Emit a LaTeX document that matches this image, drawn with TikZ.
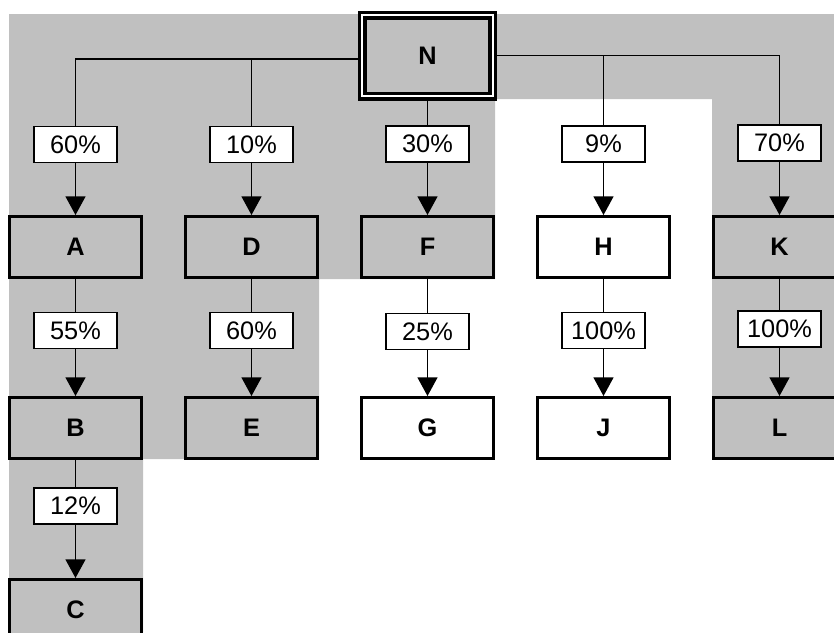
\documentclass[tikz,border=0pt]{standalone}
\usepackage{fontspec}
\setmainfont{Liberation Sans}
\usepackage{xcolor}
\usepackage{tikz}
\definecolor{panelgray}{RGB}{192, 192, 192}
\usetikzlibrary{arrows.meta, positioning}

\begin{document}
\begin{tikzpicture}[x=0.75pt, y=-0.75pt, node distance=87.75pt and 30.75pt,
    unitbox/.style={draw=black, line width=2.5pt, minimum width=98.75pt, minimum height=45.5pt,
          inner sep=0pt, font=\fontsize{19}{19}\selectfont\bfseries},
    grayunit/.style={unitbox, fill=panelgray},
    whiteunit/.style={unitbox, fill=white},
    share/.style={draw=black, fill=white, line width=0.9pt, minimum width=62.25pt,
          minimum height=27pt, inner sep=0pt, font=\fontsize{19}{19}\selectfont},
    link/.style={draw=black, line width=1pt},
    flow/.style={link, -{Triangle[width=15pt, length=14pt]}}]

    \useasboundingbox (0,0) rectangle (834,632);
    \clip (0,0) rectangle (834,632);

    % shaded area behind the gray units
    \fill[panelgray] (9,14) -- (834,14) -- (834,459) -- (712,459) -- (712,99) -- (495,99)
        -- (495,279) -- (319,279) -- (319,459) -- (143,459) -- (143,632) -- (9,632) -- cycle;

    % top unit
    \node[unitbox, fill=panelgray, line width=2.625pt, double=white, double distance=1.5pt,
          minimum width=98pt, minimum height=60.75pt] (N) at (427.5,55.7) {N};

    % second row
    \node[grayunit] (A) at (75.5,247) {A};
    \node[grayunit, right=of A] (D) {D};
    \node[grayunit, right=of D] (F) {F};
    \node[whiteunit, right=of F] (H) {H};
    \node[grayunit, right=of H] (K) {K};

    % third and fourth row
    \node[grayunit, below=of A] (B) {B};
    \node[grayunit, below=of D] (E) {E};
    \node[whiteunit, below=of F] (G) {G};
    \node[whiteunit, below=of H] (J) {J};
    \node[grayunit, below=of K] (L) {L};
    \node[grayunit, below=88.5pt of B] (C) {C};

    % shares
    \node[share] (pA) at (75.5,144.5) {60\%};
    \node[share] (pD) at (251.5,144.5) {10\%};
    \node[share] (pF) at (427.5,144) {30\%};
    \node[share] (pH) at (603.5,144) {9\%};
    \node[share] (pK) at (779.5,143) {70\%};
    \node[share] (pB) at (75.5,330.5) {55\%};
    \node[share] (pE) at (251.5,330.5) {60\%};
    \node[share] (pG) at (427.5,331.5) {25\%};
    \node[share] (pJ) at (603.5,330.5) {100\%};
    \node[share] (pL) at (779.5,329) {100\%};
    \node[share] (pC) at (75.5,506) {12\%};

    % connectors
    \draw[link] ([yshift=-2.5pt]N.west) -| (pA.north);
    \draw[link] ([yshift=-2.5pt]N.west) -| (pD.north);
    \draw[link] (N) -- (pF);
    \draw[link] (N.east) -| (pH.north);
    \draw[link] (N.east) -| (pK.north);
    \draw[flow] (pA) -- (A);
    \draw[flow] (pD) -- (D);
    \draw[flow] (pF) -- (F);
    \draw[flow] (pH) -- (H);
    \draw[flow] (pK) -- (K);

    \draw[link] (A) -- (pB);
    \draw[link] (D) -- (pE);
    \draw[link] (F) -- (pG);
    \draw[link] (H) -- (pJ);
    \draw[link] (K) -- (pL);
    \draw[link] (B) -- (pC);
    \draw[flow] (pB) -- (B);
    \draw[flow] (pE) -- (E);
    \draw[flow] (pG) -- (G);
    \draw[flow] (pJ) -- (J);
    \draw[flow] (pL) -- (L);
    \draw[flow] (pC) -- (C);
\end{tikzpicture}
\end{document}
